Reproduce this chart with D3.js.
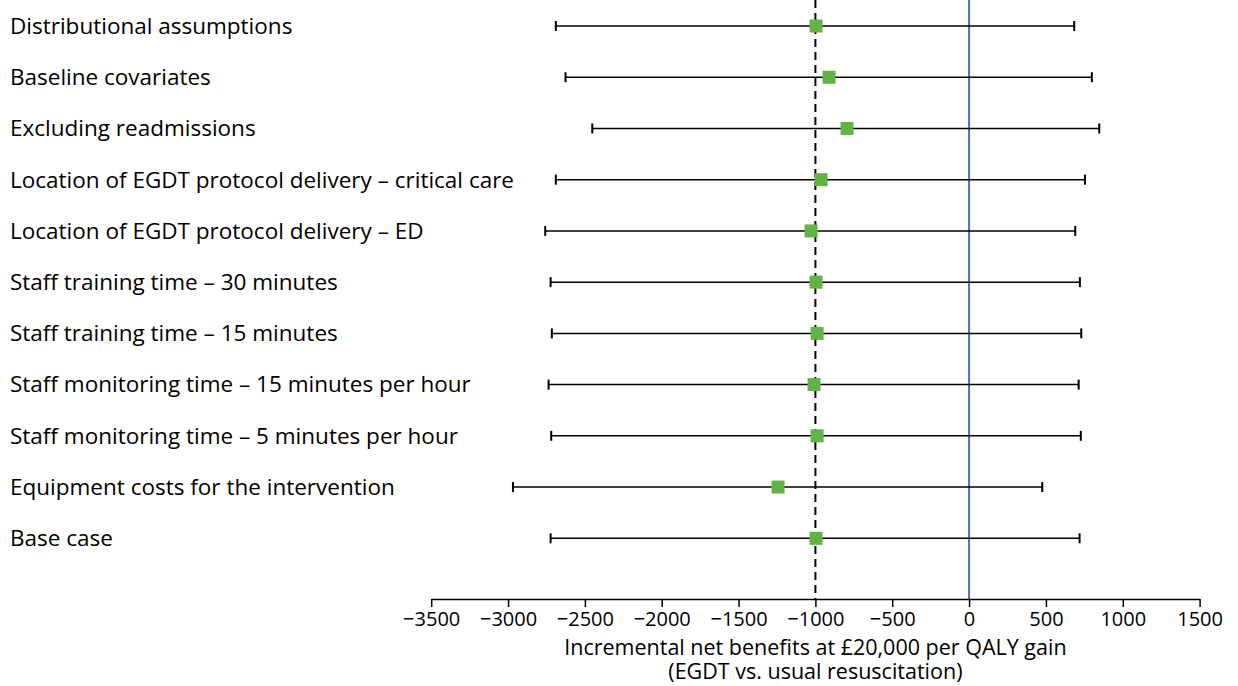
<!DOCTYPE html>
<html>
<head>
<meta charset="utf-8">
<script src="https://cdn.jsdelivr.net/npm/d3@7"></script>
<style>
  html, body { margin: 0; padding: 0; background: #fff; }
  svg { display: block; }
  text { font-family: "Open Sans", "Noto Sans", sans-serif; fill: #000; }
</style>
</head>
<body>
<svg id="chart" width="1238" height="686"></svg>
<script>
// Sensitivity analyses: incremental net benefit (point estimate and 95% interval)
const categories = [
  "Distributional assumptions",
  "Baseline covariates",
  "Excluding readmissions",
  "Location of EGDT protocol delivery \u2013 critical care",
  "Location of EGDT protocol delivery \u2013 ED",
  "Staff training time \u2013 30 minutes",
  "Staff training time \u2013 15 minutes",
  "Staff monitoring time \u2013 15 minutes per hour",
  "Staff monitoring time \u2013 5 minutes per hour",
  "Equipment costs for the intervention",
  "Base case"
];
const estimates = [-996, -911, -794, -963, -1028, -996, -989, -1009, -989, -1243, -996];
const lowerBounds = [-2689, -2626, -2452, -2689, -2758, -2723, -2715, -2736, -2719, -2968, -2723];
const upperBounds = [684, 799, 847, 754, 691, 721, 730, 713, 727, 476, 719];
const xTicks = [-3500, -3000, -2500, -2000, -1500, -1000, -500, 0, 500, 1000, 1500];
const referenceValue = -1000;   // dashed reference line
const zeroValue = 0;            // line of no difference
const axisTitle = ["Incremental net benefits at \u00a320,000 per QALY gain", "(EGDT vs. usual resuscitation)"];

const rows = categories.map((c, i) => ({
  label: c, est: estimates[i], lo: lowerBounds[i], hi: upperBounds[i]
}));

const svg = d3.select("#chart");
const axisY = 599;

const x = d3.scaleLinear().domain([-3500, 1500]).range([431.2, 1199.6]);
const y = d3.scalePoint().domain(categories).range([26, 538.3]);

// Row labels
svg.append("g").selectAll("text")
  .data(rows).join("text")
  .attr("x", 10)
  .attr("y", d => y(d.label))
  .attr("dy", "0.35em")
  .style("font-size", "22.5px")
  .text(d => d.label);

// Vertical reference lines
svg.append("line")
  .attr("x1", x(referenceValue)).attr("x2", x(referenceValue))
  .attr("y1", 0).attr("y2", axisY)
  .attr("stroke", "#000").attr("stroke-width", 2)
  .attr("stroke-dasharray", "8,5");

svg.append("line")
  .attr("x1", x(zeroValue)).attr("x2", x(zeroValue))
  .attr("y1", 0).attr("y2", axisY)
  .attr("stroke", "#4472C4").attr("stroke-width", 2);

// Interval whiskers
const bars = svg.append("g").selectAll("g")
  .data(rows).join("g");

bars.append("line")
  .attr("x1", d => x(d.lo)).attr("x2", d => x(d.hi))
  .attr("y1", d => y(d.label)).attr("y2", d => y(d.label))
  .attr("stroke", "#000").attr("stroke-width", 1.5);

bars.append("line")
  .attr("x1", d => x(d.lo)).attr("x2", d => x(d.lo))
  .attr("y1", d => y(d.label) - 5).attr("y2", d => y(d.label) + 5)
  .attr("stroke", "#000").attr("stroke-width", 2);

bars.append("line")
  .attr("x1", d => x(d.hi)).attr("x2", d => x(d.hi))
  .attr("y1", d => y(d.label) - 5).attr("y2", d => y(d.label) + 5)
  .attr("stroke", "#000").attr("stroke-width", 2);

// Point estimates
const sq = 13;
bars.append("rect")
  .attr("x", d => x(d.est) - sq / 2)
  .attr("y", d => y(d.label) - sq / 2)
  .attr("width", sq).attr("height", sq)
  .attr("fill", "#62B346");

// X axis
const axis = svg.append("g")
  .attr("transform", `translate(0,${axisY})`)
  .call(d3.axisBottom(x).tickValues(xTicks).tickSize(8).tickSizeOuter(0).tickPadding(5)
    .tickFormat(d => d < 0 ? "\u2212" + Math.abs(d) : String(d)));
axis.select(".domain").attr("stroke", "#000").attr("stroke-width", 1.5);
axis.selectAll(".tick line").attr("stroke", "#000").attr("stroke-width", 1.5);
axis.selectAll(".tick text")
  .style("font-size", "20px")
  .style("font-family", "\"Open Sans\", \"Noto Sans\", sans-serif")
  .attr("fill", "#000");

// Axis title
const titleX = (x(-3500) + x(1500)) / 2;
svg.append("text")
  .attr("text-anchor", "middle")
  .attr("x", titleX)
  .style("font-size", "21.5px")
  .selectAll("tspan")
  .data(axisTitle).join("tspan")
  .attr("x", titleX)
  .attr("y", (d, i) => 655 + i * 24)
  .text(d => d);
</script>
</body>
</html>
